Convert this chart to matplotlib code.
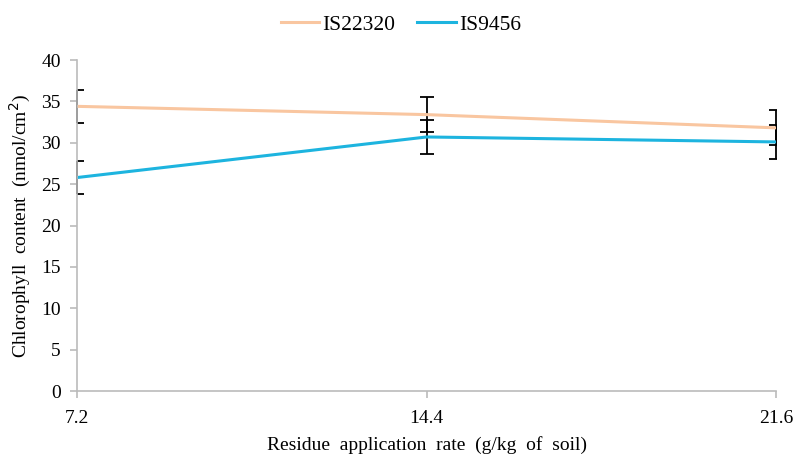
import matplotlib.pyplot as plt

rates = [7.2, 14.4, 21.6]
is22320 = [34.4, 33.4, 31.8]
is22320_err = [2.0, 2.1, 2.1]
is9456 = [25.8, 30.7, 30.1]
is9456_err = [2.0, 2.0, 2.1]

plt.rcParams['font.family'] = ['Liberation Serif', 'DejaVu Serif']

fig = plt.figure(figsize=(7.97, 4.57), dpi=100)
ax = fig.add_axes([0.097, 0.1444, 0.8767, 0.7243])

handles = []
for vals, errs, col, name in [(is22320, is22320_err, '#F9C6A0', 'IS22320'),
                              (is9456, is9456_err, '#1DB4DF', 'IS9456')]:
    line, caps, bars = ax.errorbar(rates, vals, yerr=errs, color=col, lw=2.2,
                                   ecolor='black', elinewidth=1.3, capsize=5,
                                   capthick=1.3, label=name)
    # keep the vertical bars visible at the axis edges, caps stay clipped
    for b in bars:
        b.set_clip_on(False)
    handles.append(line)

ax.set_xlim(7.2, 21.6)
ax.set_ylim(0, 40)
ax.set_xticks(rates)
ax.set_xticklabels(['7.2', '14.4', '21.6'])
ax.set_yticks(range(0, 41, 5))

for s in ['top', 'right']:
    ax.spines[s].set_visible(False)
for s in ['left', 'bottom']:
    ax.spines[s].set_color('#BBBBBB')
    ax.spines[s].set_linewidth(1.2)
ax.tick_params(axis='both', colors='#BBBBBB', labelcolor='black',
               labelsize=14, length=5, width=1.2)
ax.tick_params(axis='y', pad=7)
ax.tick_params(axis='x', pad=9)

ax.set_ylabel('Chlorophyll  content  (nmol/cm$^2$)', fontsize=14, labelpad=6)
ax.set_xlabel('Residue  application  rate  (g/kg  of  soil)', fontsize=14,
              labelpad=6)

fig.legend(handles, ['IS22320', 'IS9456'], loc='upper center',
           bbox_to_anchor=(0.503, 1.01), ncol=2, frameon=False, fontsize=15.5,
           handlelength=1.8, columnspacing=1.0, handletextpad=0.15)

fig.savefig('out.png', dpi=100)
